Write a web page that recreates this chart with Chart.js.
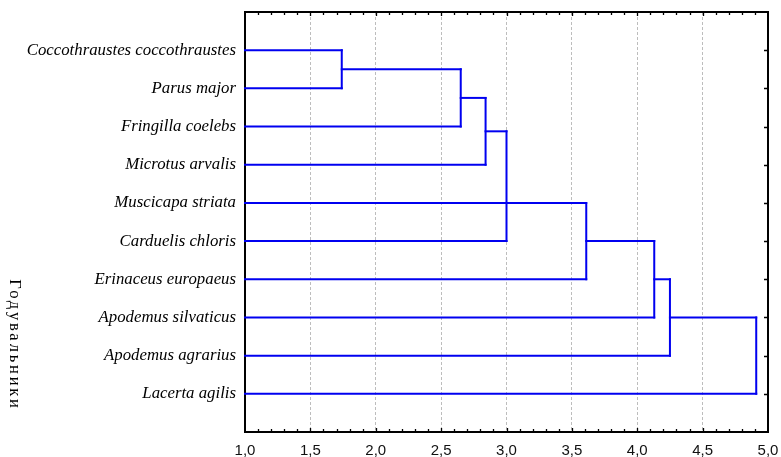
<!DOCTYPE html>
<html><head><meta charset="utf-8">
<script src="https://cdn.jsdelivr.net/npm/chart.js@4.4.1/dist/chart.umd.min.js"></script>
<style>html,body{margin:0;padding:0;background:#fff}#wrap{width:781px;height:457px;position:relative}</style>
</head><body><div id="wrap"><canvas id="c"></canvas></div>
<script>
// ---- data ----
const species = ['Coccothraustes coccothraustes','Parus major','Fringilla coelebs','Microtus arvalis','Muscicapa striata','Carduelis chloris','Erinaceus europaeus','Apodemus silvaticus','Apodemus agrarius','Lacerta agilis'];
// merge members: index < 10 = species, index >= 10 = result of merge (index - 10)
const mergeMembers = [[0,1],[10,2],[11,3],[12,4,5],[13,6],[14,7],[15,8],[16,9]];
const mergeDistances = [1.74, 2.65, 2.84, 3.00, 3.61, 4.13, 4.25, 4.91];
const distanceTicks = [1.0, 1.5, 2.0, 2.5, 3.0, 3.5, 4.0, 4.5, 5.0];
const axisTitle = 'Годувальники';

// ---- build dendrogram segments from the linkage ----
const nodeY = species.map((_, i) => i + 1);
const nodeX = species.map(() => distanceTicks[0]);
const segments = [];
mergeMembers.forEach((members, i) => {
  const h = mergeDistances[i];
  const ys = members.map(m => nodeY[m]);
  members.forEach(m => segments.push([{x: nodeX[m], y: nodeY[m]}, {x: h, y: nodeY[m]}]));
  segments.push([{x: h, y: Math.min(...ys)}, {x: h, y: Math.max(...ys)}]);
  const s = ys.slice().sort((a, b) => a - b);
  const mid = s.length % 2 ? s[(s.length - 1) / 2] : (s[s.length / 2 - 1] + s[s.length / 2]) / 2;
  nodeY.push(mid); nodeX.push(h);
});

const LINE = '#0000f0';
const datasets = segments.map(seg => ({
  data: seg, showLine: true, borderColor: LINE, borderWidth: 2,
  borderCapStyle: 'square', pointRadius: 0, fill: false, clip: false
}));

const framePlugin = {
  id: 'frame',
  afterDraw(chart) {
    const {ctx, chartArea: a, scales: {x, y}} = chart;
    ctx.save();
    ctx.strokeStyle = '#000';
    ctx.lineWidth = 2;
    ctx.beginPath();
    ctx.moveTo(a.left - 1, a.top); ctx.lineTo(a.right, a.top); ctx.lineTo(a.right, a.bottom + 1);
    ctx.stroke();
    ctx.lineWidth = 1.3;
    ctx.beginPath();
    const lo = distanceTicks[0], hi = distanceTicks[distanceTicks.length - 1];
    const n = Math.round((hi - lo) / 0.1);
    for (let k = 1; k < n; k++) {
      const px = Math.round(x.getPixelForValue(lo + k * 0.1)) + 0.5;
      const len = k % 5 === 0 ? 4 : 3;
      ctx.moveTo(px, a.bottom); ctx.lineTo(px, a.bottom - len);
      ctx.moveTo(px, a.top); ctx.lineTo(px, a.top + len);
    }
    species.forEach((_, i) => {
      const py = Math.round(y.getPixelForValue(i + 1)) + 0.5;
      ctx.moveTo(a.right, py); ctx.lineTo(a.right - 4, py);
    });
    ctx.stroke();
    // rotated axis title (reads top to bottom)
    ctx.fillStyle = '#000';
    ctx.font = '16.5px "Liberation Serif", "Times New Roman", serif';
    ctx.letterSpacing = '2.8px';
    ctx.translate(14, 345);
    ctx.rotate(Math.PI / 2);
    ctx.textAlign = 'center';
    ctx.textBaseline = 'middle';
    ctx.fillText(axisTitle, 0, 0);
    ctx.restore();
  }
};

const noPad = s => { s.paddingTop = 0; s.paddingBottom = 0; s.paddingLeft = 0; s.paddingRight = 0; };

new Chart(document.getElementById('c'), {
  type: 'scatter',
  data: {datasets},
  options: {
    responsive: true, maintainAspectRatio: false, animation: false,
    layout: {padding: {left: 0, right: 13, top: 12, bottom: 0}},
    plugins: {legend: {display: false}, tooltip: {enabled: false}},
    scales: {
      x: {
        type: 'linear', position: 'bottom', min: 1, max: 5,
        afterBuildTicks: s => { s.ticks = distanceTicks.map(v => ({value: v})); },
        ticks: {
          autoSkip: false, maxRotation: 0, padding: 10, color: '#111',
          font: {family: '"Liberation Sans", Arial, sans-serif', size: 15},
          callback: v => Number(v).toFixed(1).replace('.', ',')
        },
        grid: {color: '#bdbdbd', lineWidth: 1, drawTicks: false},
        border: {display: true, color: '#000', width: 2, dash: [3, 2]},
        afterFit: s => { s.height = 25; noPad(s); }
      },
      y: {
        type: 'linear', min: 0, max: 11, reverse: true,
        afterBuildTicks: s => { s.ticks = species.map((_, i) => ({value: i + 1})); },
        ticks: {
          autoSkip: false, padding: 9, color: '#000',
          font: {family: '"Liberation Serif", "Times New Roman", serif', style: 'italic', size: 16.8},
          callback: v => species[v - 1] || ''
        },
        grid: {display: false, drawTicks: false},
        border: {display: true, color: '#000', width: 2},
        afterFit: s => { s.width = 245; noPad(s); }
      }
    }
  },
  plugins: [framePlugin]
});
</script>
</body></html>
